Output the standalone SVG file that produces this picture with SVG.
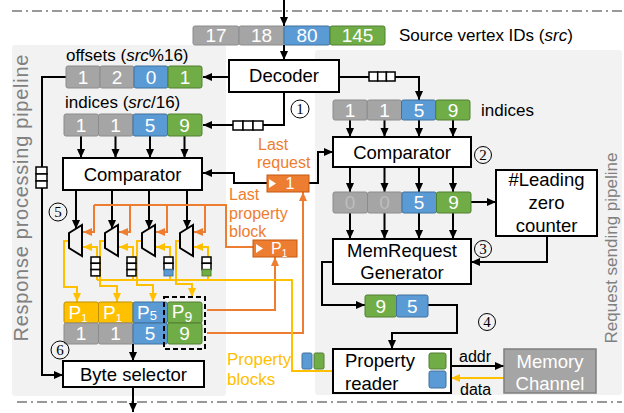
<svg xmlns="http://www.w3.org/2000/svg" width="624" height="413" viewBox="0 0 624 413">
<defs>
<style>
text{font-family:"Liberation Sans",Arial,sans-serif}
.g{fill:#a5a5a5;stroke:#8c8c8c;stroke-width:1}
.b{fill:#5b9bd5;stroke:#41719c;stroke-width:1}
.gr{fill:#70ad47;stroke:#507e32;stroke-width:1}
.y{fill:#ffc000;stroke:#bf9000;stroke-width:1}
.ct{fill:#fff;font-size:19px;text-anchor:middle}
.box{fill:#fff;stroke:#000;stroke-width:2}
.bt{font-size:18.5px;text-anchor:middle;fill:#000}
.lbl{font-size:17px;fill:#000}
.ln{fill:none;stroke:#000;stroke-width:2}
.or{fill:none;stroke:#ed7d31;stroke-width:2}
.yl{fill:none;stroke:#ffc000;stroke-width:2}
.ot{fill:#ed7d31;font-size:16px}
.q{fill:#fff;stroke:#000;stroke-width:1.5}
.cn{fill:none;stroke:#000;stroke-width:1}
.cnt{font-family:"Liberation Serif",serif;font-size:15px;text-anchor:middle}
.dd{stroke:#999;stroke-width:2;stroke-dasharray:10 4 2 4}
</style>
<marker id="ab" markerUnits="userSpaceOnUse" markerWidth="10" markerHeight="9" refX="9" refY="4" orient="auto"><path d="M0,0 L9,4 L0,8 z" fill="#000"/></marker>
<marker id="ao" markerUnits="userSpaceOnUse" markerWidth="10" markerHeight="9" refX="9" refY="4" orient="auto"><path d="M0,0 L9,4 L0,8 z" fill="#ed7d31"/></marker>
<marker id="ay" markerUnits="userSpaceOnUse" markerWidth="10" markerHeight="9" refX="9" refY="4" orient="auto"><path d="M0,0 L9,4 L0,8 z" fill="#ffc000"/></marker>
</defs>

<!-- background panels -->
<rect x="12" y="45" width="214" height="351" rx="3" fill="#f2f2f2"/>
<rect x="315" y="50" width="307" height="345" rx="3" fill="#f2f2f2"/>
<line class="dd" x1="12" y1="11" x2="622" y2="11"/>
<line class="dd" x1="17" y1="402" x2="622" y2="402"/>

<text x="28" y="198" transform="rotate(-90 28 198)" font-size="20" fill="#808080" text-anchor="middle" textLength="287" lengthAdjust="spacing">Response processing pipeline</text>
<text x="617" y="248" transform="rotate(-90 617 248)" font-size="17" fill="#808080" text-anchor="middle">Request sending pipeline</text>

<!-- connectors -->
<g id="connectors">
<line class="ln" x1="284" y1="0" x2="284" y2="26" marker-end="url(#ab)"/>
<line class="ln" x1="284" y1="45" x2="284" y2="60" marker-end="url(#ab)"/>
<line class="ln" x1="229" y1="77" x2="203" y2="77" marker-end="url(#ab)"/>
<polyline class="ln" points="284,92 284,125 203,125" marker-end="url(#ab)"/>
<polyline class="ln" points="339,77 419,77 419,100" marker-end="url(#ab)"/>
<polyline class="ln" points="66,77 42,77 42,375 63,375" marker-end="url(#ab)"/>
<line class="ln" x1="81" y1="136" x2="81" y2="158" marker-end="url(#ab)"/>
<line class="ln" x1="115.5" y1="136" x2="115.5" y2="158" marker-end="url(#ab)"/>
<line class="ln" x1="150" y1="136" x2="150" y2="158" marker-end="url(#ab)"/>
<line class="ln" x1="184.5" y1="136" x2="184.5" y2="158" marker-end="url(#ab)"/>
<line class="ln" x1="76" y1="190" x2="76" y2="229" marker-end="url(#ab)"/>
<line class="ln" x1="112" y1="190" x2="112" y2="229" marker-end="url(#ab)"/>
<line class="ln" x1="149" y1="190" x2="149" y2="229" marker-end="url(#ab)"/>
<line class="ln" x1="187" y1="190" x2="187" y2="229" marker-end="url(#ab)"/>
<polyline class="ln" points="267,183 234,183 234,173 203,173" marker-end="url(#ab)"/>
<polyline class="ln" points="309,183 318,183 318,152 333,152" marker-end="url(#ab)"/>
<line class="ln" x1="350" y1="120" x2="350" y2="137" marker-end="url(#ab)"/>
<line class="ln" x1="384.5" y1="120" x2="384.5" y2="137" marker-end="url(#ab)"/>
<line class="ln" x1="419" y1="120" x2="419" y2="137" marker-end="url(#ab)"/>
<line class="ln" x1="453" y1="120" x2="453" y2="137" marker-end="url(#ab)"/>
<line class="ln" x1="350" y1="167" x2="350" y2="192" marker-end="url(#ab)"/>
<line class="ln" x1="384.5" y1="167" x2="384.5" y2="192" marker-end="url(#ab)"/>
<line class="ln" x1="419" y1="167" x2="419" y2="192" marker-end="url(#ab)"/>
<line class="ln" x1="453" y1="167" x2="453" y2="192" marker-end="url(#ab)"/>
<line class="ln" x1="471" y1="202" x2="496" y2="202" marker-end="url(#ab)"/>
<line class="ln" x1="350" y1="213" x2="350" y2="239" marker-end="url(#ab)"/>
<line class="ln" x1="384.5" y1="213" x2="384.5" y2="239" marker-end="url(#ab)"/>
<line class="ln" x1="419" y1="213" x2="419" y2="239" marker-end="url(#ab)"/>
<line class="ln" x1="453" y1="213" x2="453" y2="239" marker-end="url(#ab)"/>
<polyline class="ln" points="547,236 547,262 471,262" marker-end="url(#ab)"/>
<polyline class="ln" points="333,262 322,262 322,305 365,305" marker-end="url(#ab)"/>
<polyline class="ln" points="428,305 457,305 457,333 392,333 392,349" marker-end="url(#ab)"/>
<line class="ln" x1="451" y1="366" x2="504" y2="366" marker-end="url(#ab)"/>
<line class="yl" x1="504" y1="378" x2="451" y2="378" marker-end="url(#ay)"/>
<line class="ln" x1="133" y1="344" x2="133" y2="361" marker-end="url(#ab)"/>
<line class="ln" x1="133" y1="387" x2="133" y2="412" marker-end="url(#ab)"/>
<polyline class="or" points="207,333 303,333 303,192" marker-end="url(#ao)"/>
<polyline class="or" points="207,310 275,310 275,257" marker-end="url(#ao)"/>
<polyline class="or" points="253,247 226,247 226,205 94,205"/>
<polyline class="or" points="94,205 94,232 83,232" marker-end="url(#ao)"/>
<polyline class="or" points="130,205 130,232 119,232" marker-end="url(#ao)"/>
<polyline class="or" points="167,205 167,232 156,232" marker-end="url(#ao)"/>
<polyline class="or" points="205,205 205,232 194,232" marker-end="url(#ao)"/>
<polyline class="yl" points="333,371 292,371 292,280 97,280"/>
<polyline class="yl" points="97,280 97,247 83,247" marker-end="url(#ay)"/>
<polyline class="yl" points="133,280 133,247 119,247" marker-end="url(#ay)"/>
<polyline class="yl" points="170,280 170,247 156,247" marker-end="url(#ay)"/>
<polyline class="yl" points="208,280 208,247 194,247" marker-end="url(#ay)"/>
<polyline class="yl" points="69,241 64,241 64,287 77,287 77,302" marker-end="url(#ay)"/>
<polyline class="yl" points="105,241 100,241 100,286 117,286 117,302" marker-end="url(#ay)"/>
<polyline class="yl" points="142,241 137,241 137,285 153,285 153,302" marker-end="url(#ay)"/>
<polyline class="yl" points="180,241 176,241 176,284 192,284 192,297" marker-end="url(#ay)"/>
<rect class="q" x="233" y="121" width="10" height="9"/><rect class="q" x="243" y="121" width="10" height="9"/><rect class="q" x="253" y="121" width="10" height="9"/>
<rect class="q" x="369" y="72" width="8.7" height="9"/><rect class="q" x="377.7" y="72" width="8.7" height="9"/><rect class="q" x="386.4" y="72" width="8.7" height="9"/>
<rect class="q" x="36" y="167" width="11" height="7"/><rect class="q" x="36" y="174" width="11" height="7"/><rect class="q" x="36" y="181" width="11" height="7"/>
</g>

<g id="source">
<rect class="g" x="193" y="26" width="46" height="19" rx="2"/><rect class="g" x="239" y="26" width="45" height="19" rx="2"/>
<rect class="b" x="284" y="26" width="46" height="19" rx="2"/><rect class="gr" x="330" y="26" width="55" height="19" rx="2"/>
<text class="ct" x="216" y="42">17</text><text class="ct" x="261.5" y="42">18</text><text class="ct" x="307" y="42">80</text><text class="ct" x="357.5" y="42">145</text>
<text class="lbl" x="399" y="41">Source vertex IDs (<tspan font-style="italic">src</tspan>)</text>
</g>

<g id="decoder"><rect class="box" x="229" y="60" width="110" height="32"/><text class="bt" x="284" y="82">Decoder</text></g>

<g id="offsets">
<text class="lbl" x="66" y="61">offsets (<tspan font-style="italic">src</tspan>%16)</text>
<rect class="g" x="66" y="66" width="34" height="22" rx="2"/><rect class="g" x="100" y="66" width="34" height="22" rx="2"/>
<rect class="b" x="134" y="66" width="34" height="22" rx="2"/><rect class="gr" x="168" y="66" width="34" height="22" rx="2"/>
<text class="ct" x="83" y="84">1</text><text class="ct" x="117" y="84">2</text><text class="ct" x="151" y="84">0</text><text class="ct" x="185" y="84">1</text>
</g>

<g id="indices-left">
<text class="lbl" x="65" y="108">indices (<tspan font-style="italic">src</tspan>/16)</text>
<rect class="g" x="64" y="114" width="34.5" height="22" rx="2"/><rect class="g" x="98.5" y="114" width="34.5" height="22" rx="2"/>
<rect class="b" x="133" y="114" width="34.5" height="22" rx="2"/><rect class="gr" x="167.5" y="114" width="34.5" height="22" rx="2"/>
<text class="ct" x="81" y="132">1</text><text class="ct" x="115.5" y="132">1</text><text class="ct" x="150" y="132">5</text><text class="ct" x="184.5" y="132">9</text>
</g>

<g id="step1"><circle class="cn" cx="300" cy="109" r="9"/><text class="cnt" x="300" y="114">1</text></g>

<g id="indices-right">
<rect class="g" x="333" y="100" width="34.25" height="20" rx="2"/><rect class="g" x="367.25" y="100" width="34.25" height="20" rx="2"/>
<rect class="b" x="401.5" y="100" width="34.25" height="20" rx="2"/><rect class="gr" x="435.75" y="100" width="34.25" height="20" rx="2"/>
<text class="ct" x="350" y="117">1</text><text class="ct" x="384.5" y="117">1</text><text class="ct" x="419" y="117">5</text><text class="ct" x="453" y="117">9</text>
<text class="lbl" x="481" y="116">indices</text>
</g>

<g id="comparator-left"><rect class="box" x="63" y="158" width="139" height="32"/><text class="bt" x="132.5" y="180.5">Comparator</text></g>
<g id="comparator-right"><rect class="box" x="333" y="137" width="138" height="30"/><text class="bt" x="402" y="158.5">Comparator</text></g>
<g id="step2"><circle class="cn" cx="483" cy="155" r="8.5"/><text class="cnt" x="483" y="160">2</text></g>

<g id="last-request">
<rect x="267" y="175" width="42" height="17" fill="#ed7d31" stroke="#c65911" stroke-width="1"/>
<polygon points="269,179 276,183.5 269,188" fill="#fff"/>
<text x="290" y="189" fill="#fff" font-size="16" text-anchor="middle">1</text>
<text class="ot" x="258" y="150">Last</text><text class="ot" x="257" y="168">request</text>
</g>

<g id="last-property">
<rect x="253" y="240" width="44" height="17" fill="#ed7d31" stroke="#c65911" stroke-width="1"/>
<polygon points="256,244 263,248.5 256,253" fill="#fff"/>
<text x="271" y="254" fill="#fff" font-size="16">P<tspan font-size="10" dy="3">1</tspan></text>
<text class="ot" x="229" y="200">Last</text><text class="ot" x="229" y="218.5">property</text><text class="ot" x="229" y="237">block</text>
</g>

<g id="step5"><circle class="cn" cx="58" cy="212" r="9"/><text class="cnt" x="58" y="217">5</text></g>

<g id="muxes">
<polygon class="ln" points="69,233 82,225 82,256 69,248"/>
<polygon class="ln" points="105,233 118,225 118,256 105,248"/>
<polygon class="ln" points="142,233 155,225 155,256 142,248"/>
<polygon class="ln" points="180,233 193,225 193,256 180,248"/>
</g>

<g id="mux-queues">
<rect class="q" x="91" y="257" width="9" height="6.3"/><rect class="q" x="91" y="263.3" width="9" height="6.3"/><rect class="q" x="91" y="269.6" width="9" height="6.3"/>
<rect class="q" x="127" y="257" width="9" height="6.3"/><rect class="q" x="127" y="263.3" width="9" height="6.3"/><rect class="q" x="127" y="269.6" width="9" height="6.3"/>
<rect class="q" x="164" y="257" width="9" height="6.3"/><rect class="q" x="164" y="263.3" width="9" height="6.3"/><rect x="164" y="269.6" width="9" height="6.3" fill="#5b9bd5" stroke="#41719c" stroke-width="1"/>
<rect class="q" x="202" y="257" width="9" height="6.3"/><rect class="q" x="202" y="263.3" width="9" height="6.3"/><rect x="202" y="269.6" width="9" height="6.3" fill="#70ad47" stroke="#507e32" stroke-width="1"/>
</g>

<g id="zero-array">
<rect class="g" x="333" y="192" width="34.5" height="21" rx="2"/><rect class="g" x="367.5" y="192" width="34.5" height="21" rx="2"/>
<rect class="b" x="402" y="192" width="34.5" height="21" rx="2"/><rect class="gr" x="436.5" y="192" width="34.5" height="21" rx="2"/>
<text class="ct" x="350" y="209" style="fill:#bdbdbd">0</text><text class="ct" x="384.5" y="209" style="fill:#bdbdbd">0</text><text class="ct" x="419" y="209">5</text><text class="ct" x="453.5" y="209">9</text>
</g>

<g id="lz-counter"><rect class="box" x="496" y="170" width="101" height="66"/>
<text class="bt" x="546.5" y="186">#Leading</text><text class="bt" x="546.5" y="209">zero</text><text class="bt" x="546.5" y="232">counter</text></g>

<g id="memrequest"><rect class="box" x="333" y="239" width="138" height="45"/>
<text class="bt" x="402" y="257">MemRequest</text><text class="bt" x="402" y="279">Generator</text></g>
<g id="step3"><circle class="cn" cx="483" cy="249" r="8.5"/><text class="cnt" x="483" y="254">3</text></g>

<g id="req-array">
<rect class="gr" x="365" y="295" width="31.5" height="22" rx="2"/><rect class="b" x="396.5" y="295" width="31.5" height="22" rx="2"/>
<text class="ct" x="380.75" y="313">9</text><text class="ct" x="412.25" y="313">5</text>
</g>
<g id="step4"><circle class="cn" cx="487" cy="322" r="8.5"/><text class="cnt" x="487" y="327">4</text></g>

<g id="property-reader"><rect class="box" x="333" y="349" width="118" height="44"/>
<text class="bt" x="345" y="367" style="text-anchor:start">Property</text><text class="bt" x="345" y="390" style="text-anchor:start">reader</text>
<rect class="gr" x="429" y="353" width="17" height="16" rx="2"/><rect class="b" x="429" y="371" width="17" height="17" rx="2"/></g>

<g id="memory-channel"><rect x="504" y="349" width="92" height="44" fill="#a5a5a5" stroke="#7f7f7f" stroke-width="1.5"/>
<text class="bt" x="550" y="368" style="fill:#fff">Memory</text><text class="bt" x="550" y="390" style="fill:#fff">Channel</text></g>
<text x="459" y="362" font-size="16">addr</text>
<text x="460" y="395" font-size="16">data</text>

<g id="property-blocks">
<rect class="b" x="302" y="353" width="10" height="16" rx="1.5"/><rect class="gr" x="314" y="353" width="10" height="16" rx="1.5"/>
<text x="227" y="365" font-size="17" fill="#ffc000">Property</text><text x="227" y="385" font-size="17" fill="#ffc000">blocks</text>
</g>

<g id="p-row">
<rect class="y" x="64" y="302" width="34.5" height="21" rx="2"/><rect class="y" x="98.5" y="302" width="34.5" height="21" rx="2"/>
<rect class="b" x="133" y="302" width="34.5" height="21" rx="2"/><rect class="gr" x="167.5" y="302" width="34.5" height="21" rx="2"/>
<text class="ct" x="78" y="319">P<tspan font-size="11" dy="3">1</tspan></text>
<text class="ct" x="112.5" y="319">P<tspan font-size="11" dy="3">1</tspan></text>
<text class="ct" x="147" y="319">P<tspan font-size="13" dy="1">5</tspan></text>
<text class="ct" x="182" y="318">P<tspan font-size="14" dy="4">9</tspan></text>
<rect class="g" x="64" y="323" width="34.5" height="21" rx="2"/><rect class="g" x="98.5" y="323" width="34.5" height="21" rx="2"/>
<rect class="b" x="133" y="323" width="34.5" height="21" rx="2"/><rect class="gr" x="167.5" y="323" width="34.5" height="21" rx="2"/>
<text class="ct" x="81" y="340">1</text><text class="ct" x="115.5" y="340">1</text><text class="ct" x="150" y="340">5</text><text class="ct" x="184.5" y="340">9</text>
<rect x="164" y="297" width="41" height="52" fill="none" stroke="#000" stroke-width="2" stroke-dasharray="5 3"/>
</g>
<g id="step6"><circle class="cn" cx="60" cy="350" r="9"/><text class="cnt" x="60" y="355">6</text></g>

<g id="byte-selector"><rect class="box" x="63" y="361" width="141" height="26"/><text class="bt" x="133.5" y="380.5">Byte selector</text></g>
</svg>
